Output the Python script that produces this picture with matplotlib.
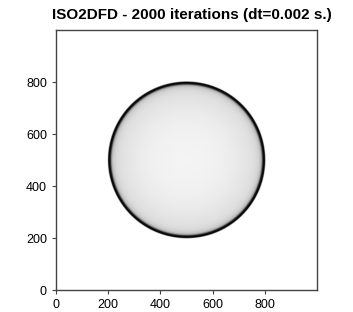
import numpy as np
import matplotlib
matplotlib.use("Agg")
import matplotlib.pyplot as plt

plt.rcParams['font.family'] = ['Liberation Sans', 'DejaVu Sans']

# Wavefield description
title = "ISO2DFD - 2000 iterations (dt=0.002 s.)"
grid_n = 1000
center_x = 500
center_y = 500
# radial amplitude profile of the wavefront (distance from source -> amplitude)
radius_pts = [0, 60, 120, 180, 220, 250, 265, 275, 282, 287, 290, 293, 299, 301, 303, 320]
amplitude_pts = [0.09, 0.10, 0.12, 0.15, 0.18, 0.21, 0.24, 0.28, 0.34, 0.45, 0.7, 0.95, 1.0, 0.6, 0.0, 0.0]
xticks = [0, 200, 400, 600, 800]
yticks = [0, 200, 400, 600, 800]

yy, xx = np.mgrid[0:grid_n, 0:grid_n]
dist = np.hypot(xx - center_x, yy - center_y)
field = np.interp(dist, radius_pts, amplitude_pts)

fig = plt.figure(figsize=(3.53, 3.12), dpi=100)
ax = fig.add_axes([0.1586, 0.0705, 0.739, 0.833])
ax.imshow(field, cmap='Greys', vmin=0, vmax=1, origin='lower',
          extent=[0, grid_n, 0, grid_n], interpolation='antialiased', aspect='auto')
ax.set_xlim(0, grid_n)
ax.set_ylim(0, grid_n)
ax.set_xticks(xticks)
ax.set_yticks(yticks)
ax.tick_params(labelsize=9, length=3, color='#444444', top=False, right=False)
for s in ax.spines.values():
    s.set_color('#444444')
    s.set_linewidth(1.0)
ax.set_title(title, fontsize=11, fontweight='bold', pad=8, x=0.52)
fig.savefig("out.png", dpi=100)
